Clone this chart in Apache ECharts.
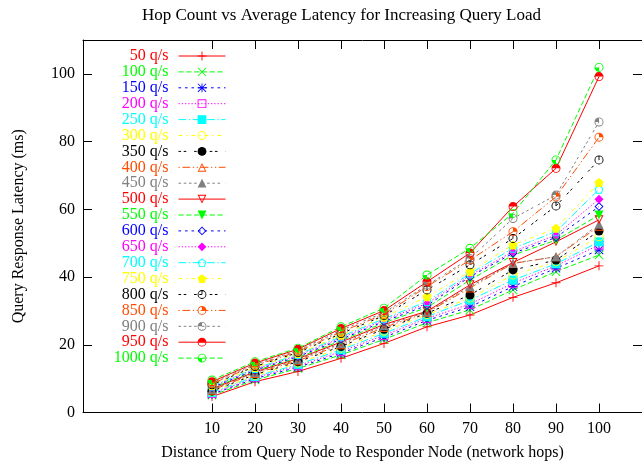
<!DOCTYPE html>
<html>
<head>
<meta charset="utf-8">
<script src="https://cdn.jsdelivr.net/npm/echarts@6/dist/echarts.min.js"></script>
<style>
  html, body { margin: 0; padding: 0; background: #ffffff; }
  #chart { width: 642px; height: 470px; }
</style>
</head>
<body>
<div id="chart"></div>
<script>
// Network distance (hops) on the x axis
const hops = [10, 20, 30, 40, 50, 60, 70, 80, 90, 100];
const hopTicks = [10, 20, 30, 40, 50, 60, 70, 80, 90, 100];

// Average query response latency (ms) per query load
const q50   = [4.7, 9.1, 12.1, 16.0, 20.4, 25.3, 28.8, 34.0, 38.3, 43.3];
const q100  = [5.1, 9.6, 13.0, 17.0, 21.6, 26.5, 30.3, 36.2, 41.6, 46.5];
const q150  = [5.4, 10.0, 13.4, 17.5, 22.2, 27.2, 31.2, 37.2, 42.6, 48.0];
const q200  = [5.6, 10.3, 13.8, 18.0, 22.8, 27.8, 32.0, 38.2, 43.3, 49.5];
const q250  = [5.9, 10.6, 14.2, 18.5, 23.4, 28.3, 33.2, 39.1, 43.9, 50.4];
const q300  = [6.1, 10.9, 14.6, 19.0, 24.0, 28.9, 33.8, 40.6, 44.5, 51.9];
const q350  = [6.3, 11.2, 15.0, 19.5, 24.6, 29.3, 34.7, 42.1, 45.0, 53.6];
const q400  = [6.6, 11.5, 15.3, 20.0, 25.1, 29.5, 36.8, 44.0, 46.0, 55.0];
const q450  = [6.8, 11.8, 15.6, 20.4, 25.6, 29.7, 37.2, 44.1, 46.0, 55.6];
const q500  = [7.0, 12.0, 15.9, 20.8, 26.0, 29.9, 37.7, 44.3, 50.4, 56.9];
const q550  = [7.2, 12.3, 16.2, 21.2, 26.5, 31.0, 39.1, 46.5, 50.9, 58.3];
const q600  = [7.4, 12.5, 16.5, 21.6, 26.9, 31.6, 40.1, 47.0, 51.7, 60.8];
const q650  = [7.6, 12.8, 16.8, 22.0, 27.3, 32.2, 40.5, 47.5, 52.4, 63.0];
const q700  = [7.8, 13.0, 17.1, 22.4, 27.7, 32.8, 41.0, 48.5, 53.4, 65.9];
const q750  = [8.0, 13.3, 17.4, 22.8, 28.1, 34.2, 41.6, 49.5, 54.4, 67.9];
const q800  = [8.2, 13.6, 17.7, 23.3, 28.6, 36.2, 43.6, 51.4, 61.0, 74.6];
const q850  = [8.5, 13.9, 18.0, 23.8, 29.0, 37.2, 45.0, 53.4, 63.7, 81.3];
const q900  = [8.8, 14.2, 18.3, 24.3, 29.5, 37.6, 45.5, 57.3, 64.2, 85.8];
const q950  = [9.1, 14.6, 18.7, 24.8, 30.1, 38.6, 47.1, 60.8, 72.1, 99.2];
const q1000 = [9.6, 15.0, 19.0, 25.3, 30.8, 40.6, 48.5, 58.8, 74.6, 101.9];

const loadNames = ['50 q/s', '100 q/s', '150 q/s', '200 q/s', '250 q/s', '300 q/s', '350 q/s',
  '400 q/s', '450 q/s', '500 q/s', '550 q/s', '600 q/s', '650 q/s', '700 q/s', '750 q/s',
  '800 q/s', '850 q/s', '900 q/s', '950 q/s', '1000 q/s'];
const loadValues = [q50, q100, q150, q200, q250, q300, q350, q400, q450, q500,
  q550, q600, q650, q700, q750, q800, q850, q900, q950, q1000];

const yTicks = [0, 20, 40, 60, 80, 100];

// Nine-step colour and dash cycle
const palette = ['#ff0000', '#00ff00', '#0000ff', '#ff00ff', '#00ffff', '#ffff00',
  '#000000', '#ff4d00', '#808080'];
const dashBase = [
  null,
  [4, 2],
  [2, 3],
  [1, 1.5],
  [6, 2, 1, 2],
  [3, 3, 1, 3],
  [2, 2, 2, 6],
  [1, 2, 6, 2, 1, 2],
  [2, 2, 2, 2, 2, 2, 2, 4]
];
const DASH_SCALE = 1.3;

// Marker outlines in a 20x20 box; holes are wound the opposite way
const RING = 'M0,10A10,10,0,1,1,20,10A10,10,0,1,1,0,10Z M2,10A8,8,0,1,0,18,10A8,8,0,1,0,2,10Z';
const PLUS = 'M9,0H11V9H20V11H11V20H9V11H0V9H9Z';
const CROSS = 'M0,1.4L1.4,0L10,8.6L18.6,0L20,1.4L11.4,10L20,18.6L18.6,20L10,11.4L1.4,20L0,18.6L8.6,10Z';
const markers = [
  PLUS,
  CROSS,
  PLUS + ' ' + CROSS,
  'M0,0H20V20H0Z M2,2V18H18V2Z',
  'M0,0H20V20H0Z',
  RING,
  'M0,10A10,10,0,1,1,20,10A10,10,0,1,1,0,10Z',
  'M10,0L20,18L0,18Z M10,4.1L3.4,16L16.6,16Z',
  'M10,0L20,18L0,18Z',
  'M0,2L20,2L10,20Z M3.4,4L10,15.9L16.6,4Z',
  'M0,2L20,2L10,20Z',
  'M10,0L20,10L10,20L0,10Z M10,2.83L2.83,10L10,17.17L17.17,10Z',
  'M10,0L20,10L10,20L0,10Z',
  'M10,0L19.51,6.91L15.88,18.09L4.12,18.09L0.49,6.91Z M10,2.47L2.84,7.67L5.57,16.09L14.43,16.09L17.16,7.67Z',
  'M10,0L19.51,6.91L15.88,18.09L4.12,18.09L0.49,6.91Z',
  RING + ' M9,1H11V10H9Z',
  RING + ' M10,10V0A10,10,0,0,1,20,10Z',
  RING + ' M10,10H0A10,10,0,0,1,10,0Z',
  RING + ' M0,10A10,10,0,0,1,20,10Z',
  RING + ' M10,10V20A10,10,0,0,1,0,10Z'
];

const FONT = 'Liberation Serif';

const series = loadNames.map(function (name, i) {
  const color = palette[i % 9];
  const dash = dashBase[i % 9];
  return {
    name: name,
    type: 'line',
    data: hops.map(function (h, k) { return [h, loadValues[i][k]]; }),
    symbol: 'path://' + markers[i],
    symbolSize: 9,
    showAllSymbol: true,
    itemStyle: { color: color, borderWidth: 0 },
    lineStyle: {
      color: color,
      width: 1,
      type: dash ? dash.map(function (d) { return d * DASH_SCALE; }) : 'solid'
    },
    emphasis: { disabled: true },
    silent: true
  };
});

const axisText = { fontFamily: FONT, fontSize: 16, color: '#000000' };
const frameLine = { show: true, onZero: false, lineStyle: { color: '#000000', width: 1 } };
const innerTick = { show: true, inside: true, length: 9, lineStyle: { color: '#000000', width: 1 } };

const chart = echarts.init(document.getElementById('chart'), null, { renderer: 'canvas' });
chart.setOption({
  animation: false,
  backgroundColor: '#ffffff',
  title: {
    text: 'Hop Count vs Average Latency for Increasing Query Load',
    left: 142,
    top: 7,
    padding: 0,
    textStyle: { fontFamily: FONT, fontSize: 17, fontWeight: 'normal', color: '#000000' }
  },
  grid: { left: 83, top: 40, width: 563, height: 372.5, containLabel: false },
  legend: {
    orient: 'vertical',
    align: 'right',
    right: 416,
    top: 48,
    padding: 0,
    itemWidth: 47,
    itemHeight: 11,
    itemGap: -0.1,
    selectedMode: false,
    lineStyle: { width: 1 },
    textStyle: { fontFamily: FONT, fontSize: 16, lineHeight: 14, padding: [0, 5, 0, 0] },
    data: loadNames.map(function (n, i) {
      return { name: n, textStyle: { color: palette[i % 9] } };
    })
  },
  xAxis: [
    {
      type: 'value',
      position: 'bottom',
      min: -20,
      max: 110,
      interval: 10,
      name: 'Distance from Query Node to Responder Node (network hops)',
      nameLocation: 'middle',
      nameGap: 32,
      nameTextStyle: axisText,
      axisLine: frameLine,
      axisTick: Object.assign({ customValues: hopTicks }, innerTick),
      axisLabel: Object.assign({ customValues: hopTicks, margin: 8 }, axisText),
      splitLine: { show: false }
    },
    {
      type: 'value',
      position: 'top',
      min: -20,
      max: 110,
      interval: 10,
      axisLine: frameLine,
      axisTick: Object.assign({ customValues: hopTicks }, innerTick),
      axisLabel: { show: false },
      splitLine: { show: false }
    }
  ],
  yAxis: [
    {
      type: 'value',
      position: 'left',
      min: 0,
      max: 110,
      interval: 20,
      name: 'Query Response Latency (ms)',
      nameLocation: 'middle',
      nameGap: 56,
      nameTextStyle: axisText,
      axisLine: frameLine,
      axisTick: Object.assign({ customValues: yTicks }, innerTick),
      axisLabel: Object.assign({ customValues: yTicks, margin: 8 }, axisText),
      splitLine: { show: false }
    },
    {
      type: 'value',
      position: 'right',
      min: 0,
      max: 110,
      interval: 20,
      axisLine: frameLine,
      axisTick: Object.assign({ customValues: yTicks }, innerTick),
      axisLabel: { show: false },
      splitLine: { show: false }
    }
  ],
  series: series
});
</script>
</body>
</html>
